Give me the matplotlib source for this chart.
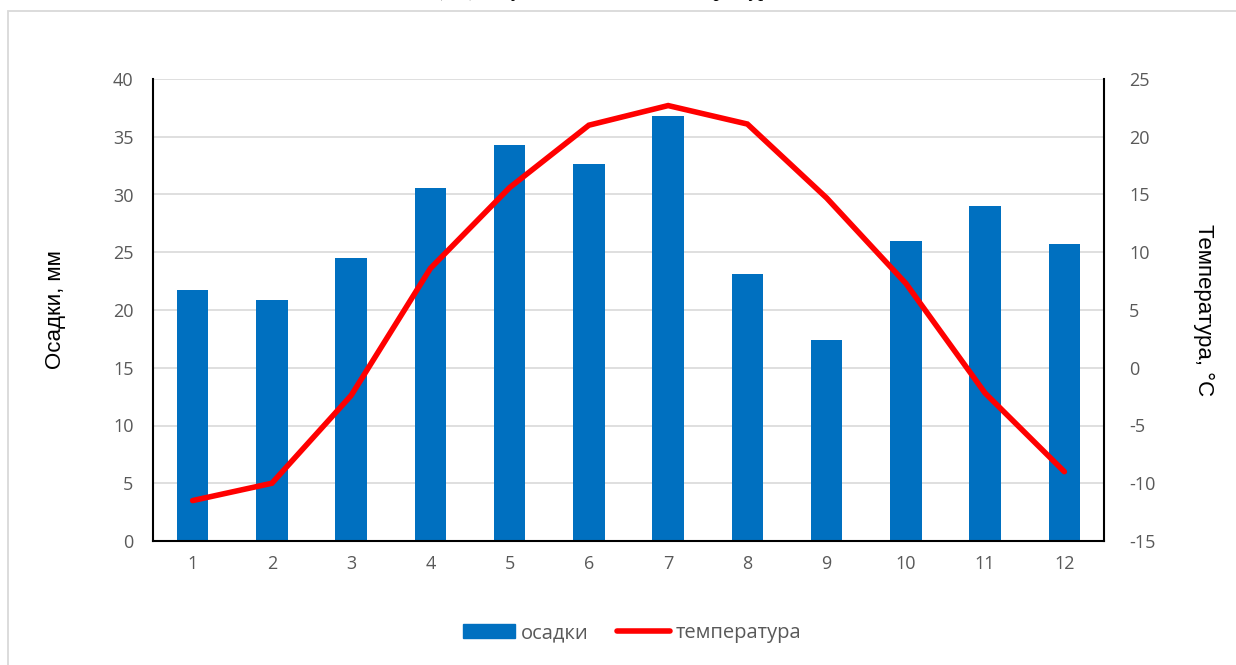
import numpy as np
import matplotlib.pyplot as plt
from matplotlib.patches import Rectangle
from matplotlib.lines import Line2D

plt.rcParams['axes.unicode_minus'] = False

# monthly data
months = [1, 2, 3, 4, 5, 6, 7, 8, 9, 10, 11, 12]
precip = [21.7, 20.9, 24.5, 30.6, 34.3, 32.6, 36.8, 23.1, 17.4, 26.0, 29.0, 25.7]
temp = [-11.5, -10.0, -2.4, 8.6, 15.6, 21.0, 22.7, 21.1, 14.7, 7.3, -2.2, -9.0]

left_ticks = [0, 5, 10, 15, 20, 25, 30, 35, 40]
right_ticks = [-15, -10, -5, 0, 5, 10, 15, 20, 25]

W, H = 1236, 665
fig = plt.figure(figsize=(W / 100, H / 100), dpi=100)

# outer frame of the chart area (light gray)
fig.patches.append(Rectangle((8 / W, -0.1), 1.2, (H - 11) / H + 0.1, transform=fig.transFigure,
                             fill=False, edgecolor='#d9d9d9', linewidth=1.3))

# caption of the page above, cut off by the picture edge as in the source
fig.text(437 / W, 1.0 + 4.5 / H, "(мм), и сумма активных температур", family='Liberation Serif',
         style='italic', fontsize=15, va='baseline', ha='left', color='black')

ax = fig.add_axes([153 / W, 1 - 541 / H, (1104 - 153) / W, (541 - 79) / H])
ax2 = ax.twinx()

tick_col = '#595959'
ax.bar(months, precip, width=0.4, color='#0070c0', zorder=2, label='осадки')
ax.set_xlim(0.5, 12.5)
ax.set_ylim(0, 40)
ax.set_yticks(left_ticks)
ax.set_xticks(months)
ax.grid(axis='y', color='#d9d9d9', linewidth=1.2, zorder=0)
ax.set_axisbelow(True)
ax.tick_params(length=0, labelsize=13, colors=tick_col, pad=10)
ax.tick_params(axis='y', pad=14)
for lab in ax.get_xticklabels() + ax.get_yticklabels():
    lab.set_family('Open Sans')
ax.spines['top'].set_visible(False)
ax.spines['right'].set_visible(False)
ax.spines['left'].set_linewidth(1.5)
ax.spines['bottom'].set_linewidth(1.5)
ax.set_ylabel('Осадки, мм', family='Liberation Sans', fontsize=16, labelpad=34)

ax2.plot(months, temp, color='#ff0000', linewidth=4, solid_joinstyle='miter', solid_capstyle='round',
         zorder=3)
ax2.set_ylim(-15, 25)
ax2.set_yticks(right_ticks)
ax2.tick_params(length=0, labelsize=13, colors=tick_col, pad=18)
for lab in ax2.get_yticklabels():
    lab.set_family('Open Sans')
for s in ['top', 'left', 'bottom']:
    ax2.spines[s].set_visible(False)
ax2.spines['right'].set_linewidth(1.5)
ax2.set_ylabel('Температура, °C', family='Liberation Sans', fontsize=16, rotation=270,
               labelpad=42)

handles = [Rectangle((0, 0), 1, 1, color='#0070c0'),
           Line2D([], [], color='#ff0000', linewidth=4, solid_capstyle='round')]
leg = fig.legend(handles, ['осадки', 'температура'], loc='center', bbox_to_anchor=(632 / W, 1 - 633 / H),
                 ncol=2, frameon=False, handlelength=2.6, handletextpad=0.3, columnspacing=1.4,
                 prop={'family': 'Open Sans', 'size': 14.5})
for t in leg.get_texts():
    t.set_color(tick_col)

fig.savefig('out.png', dpi=100)
